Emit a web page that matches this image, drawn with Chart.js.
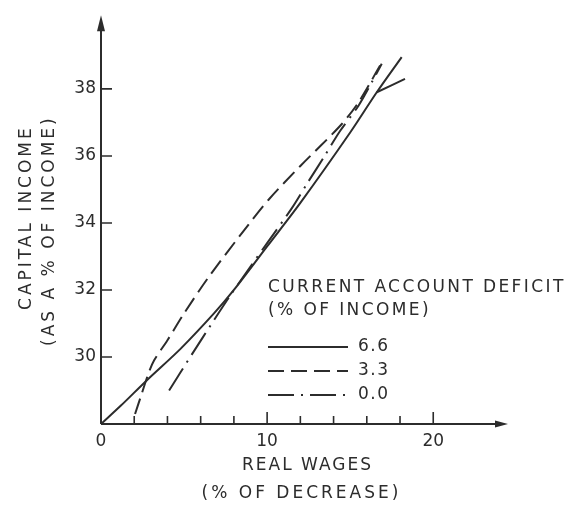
<!DOCTYPE html>
<html>
<head>
<meta charset="utf-8">
<script src="https://cdn.jsdelivr.net/npm/chart.js@4/dist/chart.umd.min.js"></script>
<style>
  html, body { margin: 0; padding: 0; background: #fff; }
</style>
</head>
<body>
<canvas id="chart" width="569" height="506"></canvas>
<script>
// legend values (current account deficit, % of income)
const seriesLabels = ['6.6', '3.3', '0.0'];

// 6.6 (solid)
const solidX = [0, 1.2, 2.75, 4.8, 6.8, 8.0, 10.0, 12.0, 15.0, 16.6, 18.1];
const solidY = [28.0, 28.55, 29.3, 30.25, 31.3, 32.0, 33.3, 34.6, 36.7, 37.9, 38.95];
// short branch at the top end of the solid curve
const solidTailX = [16.6, 18.3];
const solidTailY = [37.9, 38.3];

// 3.3 (dashed)
const dashedX = [2.05, 2.45, 2.85, 3.2, 4.0, 5.0, 6.5, 8.8, 10.1, 12.0, 14.4, 15.5, 16.8];
const dashedY = [28.3, 28.9, 29.5, 29.9, 30.5, 31.3, 32.4, 33.9, 34.7, 35.7, 36.9, 37.6, 38.7];

// 0.0 (dash-dot)
const dotX = [4.1, 5.5, 6.8, 7.8, 9.0, 10.0, 11.5, 12.5, 13.4, 14.4, 15.5, 16.3, 16.9];
const dotY = [29.0, 30.1, 31.1, 31.85, 32.7, 33.4, 34.45, 35.25, 35.95, 36.75, 37.5, 38.2, 38.75];

const xTitle = ['REAL WAGES', '(% OF DECREASE)'];
const yTitle = ['CAPITAL INCOME', '(AS A % OF INCOME)'];
const legendTitle = ['CURRENT ACCOUNT DEFICIT', '(% OF INCOME)'];

const INK = '#2c2c2c';
const FAMILY = '"DejaVu Sans", sans-serif';

function pts(xs, ys) {
  return xs.map((x, i) => ({ x: x, y: ys[i] }));
}

function text(ctx, str, x, y, spacing) {
  ctx.letterSpacing = spacing + 'px';
  ctx.fillText(str, x, y);
}

// axes with arrows and inward ticks, titles and the legend box
const drawingPlugin = {
  id: 'drawing',
  afterDraw(chart) {
    const ctx = chart.ctx;
    const xs = chart.scales.x, ys = chart.scales.y;
    const area = chart.chartArea;
    const x0 = xs.getPixelForValue(0);
    const y0 = ys.getPixelForValue(28);

    ctx.save();
    ctx.strokeStyle = INK;
    ctx.fillStyle = INK;
    ctx.lineWidth = 2;
    ctx.setLineDash([]);

    // axis lines
    ctx.beginPath();
    ctx.moveTo(x0, y0);
    ctx.lineTo(area.right - 10, y0);
    ctx.moveTo(x0, y0);
    ctx.lineTo(x0, area.top + 14);
    ctx.stroke();

    // arrow heads
    ctx.beginPath();
    ctx.moveTo(area.right, y0);
    ctx.lineTo(area.right - 13, y0 - 3.5);
    ctx.lineTo(area.right - 13, y0 + 3.5);
    ctx.closePath();
    ctx.fill();
    ctx.beginPath();
    ctx.moveTo(x0, area.top);
    ctx.lineTo(x0 - 4, area.top + 16);
    ctx.lineTo(x0 + 4, area.top + 16);
    ctx.closePath();
    ctx.fill();

    // tick marks (pointing into the plot)
    ctx.lineWidth = 1.6;
    ctx.beginPath();
    xs.ticks.forEach(t => {
      if (t.value > 0 && t.value <= 20) {
        const px = xs.getPixelForValue(t.value);
        const len = t.value % 10 === 0 ? 12 : 8;
        ctx.moveTo(px, y0);
        ctx.lineTo(px, y0 - len);
      }
    });
    ys.ticks.forEach(t => {
      if (t.value >= 30 && t.value <= 38) {
        const py = ys.getPixelForValue(t.value);
        ctx.moveTo(x0, py);
        ctx.lineTo(x0 + 11, py);
      }
    });
    ctx.stroke();

    // axis titles
    ctx.font = '17px ' + FAMILY;
    ctx.textAlign = 'center';
    ctx.textBaseline = 'middle';
    const xc = (area.left + area.right) / 2;
    text(ctx, xTitle[0], xc + 3, area.bottom + 42, 2);
    text(ctx, xTitle[1], xc - 3, area.bottom + 70, 3);

    const yc = (area.top + area.bottom) / 2;
    ctx.save();
    ctx.translate(area.left - 74, yc - 2);
    ctx.rotate(-Math.PI / 2);
    text(ctx, yTitle[0], 0, 0, 3);
    ctx.restore();
    ctx.save();
    ctx.translate(area.left - 51, yc + 11);
    ctx.rotate(-Math.PI / 2);
    text(ctx, yTitle[1], 0, 0, 3);
    ctx.restore();

    // legend
    const lx = 268;
    ctx.textAlign = 'left';
    text(ctx, legendTitle[0], lx, 288, 2.4);
    text(ctx, legendTitle[1], lx, 311, 2.4);
    chart.data.datasets.forEach((ds, i) => {
      if (ds.hideInLegend) return;
      const ly = 347 + i * 24;
      ctx.lineWidth = ds.borderWidth;
      ctx.setLineDash(ds.borderDash || []);
      ctx.beginPath();
      ctx.moveTo(lx, ly);
      ctx.lineTo(lx + 80, ly);
      ctx.stroke();
      ctx.setLineDash([]);
      text(ctx, ds.label, lx + 90, ly, 1.5);
    });
    ctx.restore();
  }
};

const lineStyle = {
  borderColor: INK,
  borderWidth: 2,
  pointRadius: 0,
  tension: 0.3,
  fill: false,
};

new Chart(document.getElementById('chart'), {
  type: 'line',
  data: {
    datasets: [
      { ...lineStyle, label: seriesLabels[0], data: pts(solidX, solidY) },
      { ...lineStyle, label: seriesLabels[1], data: pts(dashedX, dashedY), borderDash: [16, 7] },
      { ...lineStyle, label: seriesLabels[2], data: pts(dotX, dotY), borderDash: [26, 7, 2, 7] },
      { ...lineStyle, label: seriesLabels[0], data: pts(solidTailX, solidTailY), hideInLegend: true },
    ],
  },
  options: {
    responsive: false,
    animation: false,
    layout: { padding: { top: 10, right: 61, left: 0, bottom: 0 } },
    plugins: {
      legend: { display: false },
      tooltip: { enabled: false },
    },
    scales: {
      x: {
        type: 'linear',
        min: 0,
        max: 24.5,
        grid: { display: false, drawTicks: false },
        border: { display: false },
        ticks: {
          stepSize: 2,
          autoSkip: false,
          maxRotation: 0,
          padding: 7,
          color: INK,
          font: { family: FAMILY, size: 17 },
          callback: v => (v % 10 === 0 && v <= 20 ? v : ''),
        },
        afterFit: s => { s.height = 82; },
      },
      y: {
        type: 'linear',
        min: 28,
        max: 40.2,
        grid: { display: false, drawTicks: false },
        border: { display: false },
        ticks: {
          stepSize: 2,
          autoSkip: false,
          padding: 5,
          color: INK,
          font: { family: FAMILY, size: 17 },
          callback: v => (v >= 30 && v <= 38 ? v : ''),
        },
        afterFit: s => { s.width = 101; },
      },
    },
  },
  plugins: [drawingPlugin],
});
</script>
</body>
</html>
